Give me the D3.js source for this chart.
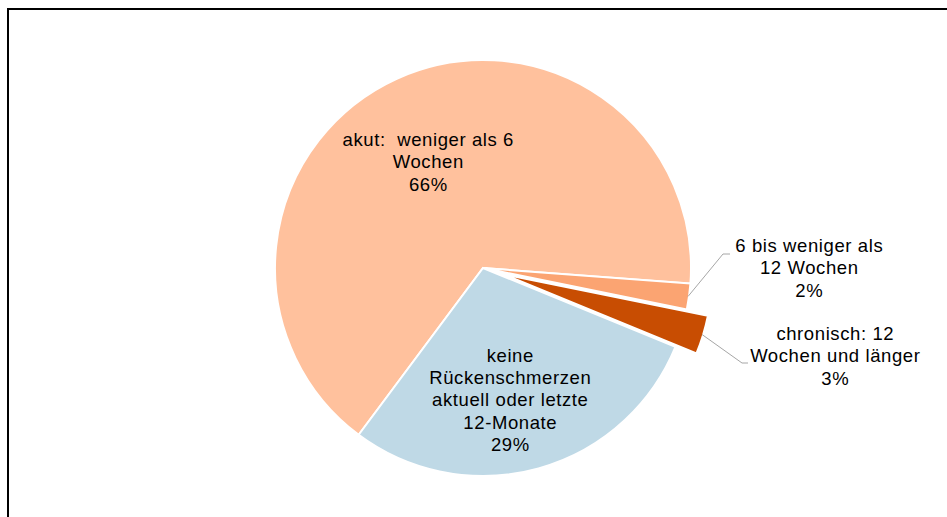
<!DOCTYPE html>
<html>
<head>
<meta charset="utf-8">
<script src="https://cdn.jsdelivr.net/npm/d3@7"></script>
<style>
  html, body { margin: 0; padding: 0; background: #fff; }
  svg { display: block; }
  text { font-family: "Liberation Sans", Arial, sans-serif; fill: #000; white-space: pre; }
</style>
</head>
<body>
<svg id="chart" width="947" height="517"></svg>
<script>
// Rückenschmerzen: Dauer der Beschwerden
const categories = [
  "akut: weniger als 6 Wochen",
  "6 bis weniger als 12 Wochen",
  "chronisch: 12 Wochen und länger",
  "keine Rückenschmerzen aktuell oder letzte 12-Monate"
];
const values = [66, 2, 3, 29];
const labelLines = [
  ["akut:  weniger als 6", "Wochen"],
  ["6 bis weniger als", "12 Wochen"],
  ["chronisch: 12", "Wochen und länger"],
  ["keine", "Rückenschmerzen", "aktuell oder letzte", "12-Monate"]
];
const colors = ["#FFC19D", "#FBA472", "#C84D02", "#BFD9E6"];

const svg = d3.select("#chart");
const W = 947, H = 517;

// outer frame
svg.append("rect")
  .attr("x", 8).attr("y", 9)
  .attr("width", W + 10).attr("height", H + 10)
  .attr("fill", "none").attr("stroke", "#000").attr("stroke-width", 2);

const cx = 483, cy = 268, R = 208;
const explodeIdx = 2, explodeDist = 22;

const start = 216.7 * Math.PI / 180;
const pie = d3.pie().sort(null).value(d => d)
  .startAngle(start).endAngle(start + 2 * Math.PI);
const arcs = pie(values);
const arc = d3.arc().innerRadius(0).outerRadius(R);

const g = svg.append("g").attr("transform", `translate(${cx},${cy})`);

function offset(d, i) {
  if (i !== explodeIdx) return [0, 0];
  const m = (d.startAngle + d.endAngle) / 2;
  return [Math.sin(m) * explodeDist, -Math.cos(m) * explodeDist];
}

g.selectAll("path.slice").data(arcs).join("path")
  .attr("class", "slice")
  .attr("d", arc)
  .attr("transform", (d, i) => { const o = offset(d, i); return `translate(${o[0]},${o[1]})`; })
  .attr("fill", (d, i) => colors[i])
  .attr("stroke", "#fff")
  .attr("stroke-width", 2)
  .attr("stroke-linejoin", "miter");

const fmt = v => v + "%";
const fs = 18.5, lh = 22.3, ls = 0.6;

// centre of each label block
function labelPos(d, i) {
  if (i === 0) return [cx - 55, cy - 106];
  if (i === 3) return [cx + 27, cy + 132];
  if (i === 1) return [809, 268];
  return [835, 356];
}

arcs.forEach((d, i) => {
  const lines = labelLines[i].concat([fmt(values[i])]);
  const [lx, ly] = labelPos(d, i);
  const top = ly - (lines.length - 1) * lh / 2;
  const t = svg.append("text")
    .attr("text-anchor", "middle")
    .attr("font-size", fs)
    .attr("letter-spacing", ls);
  lines.forEach((s, k) => {
    t.append("tspan").attr("x", lx + ls / 2).attr("y", top + k * lh).attr("dy", "0.35em").text(s);
  });

  // leader lines for the small outside slices
  if (i === 1 || i === 2) {
    const m = (d.startAngle + d.endAngle) / 2;
    const o = offset(d, i);
    const r0 = R - 1;
    const p0 = [cx + o[0] + Math.sin(m) * r0, cy + o[1] - Math.cos(m) * r0];
    const elbow = i === 1 ? [723, 254] : [742, 363];
    const end = i === 1 ? [730, 254] : [748, 363];
    svg.append("polyline")
      .attr("points", [p0, elbow, end].map(p => p.join(",")).join(" "))
      .attr("fill", "none")
      .attr("stroke", "#A6A6A6")
      .attr("stroke-width", 1);
  }
});
</script>
</body>
</html>
